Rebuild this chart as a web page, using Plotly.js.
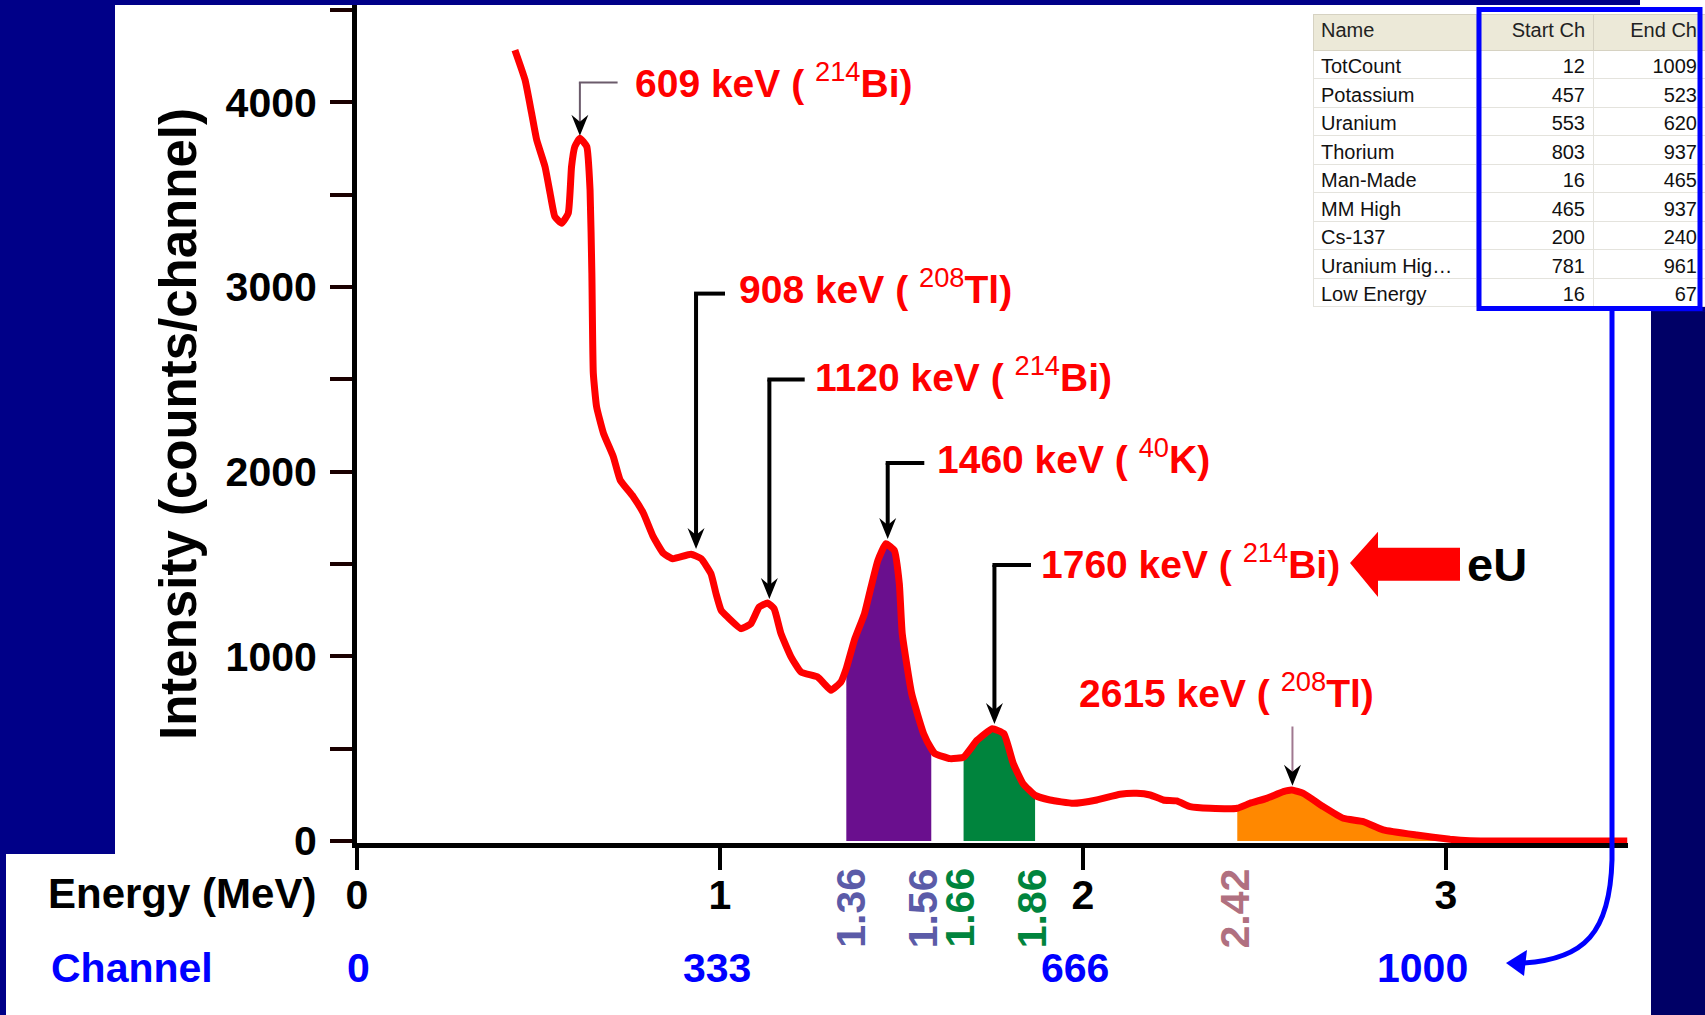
<!DOCTYPE html>
<html><head><meta charset="utf-8">
<script src="https://cdn.plot.ly/plotly-3.0.1.min.js"></script>
<style>html,body{margin:0;padding:0;background:#000088;} #chart{width:1705px;height:1015px;}</style>
</head><body><div id="chart"></div>
<script>
// ---------- data ----------
const energyMeV = [0.435,0.463,0.481,0.495,0.518,0.532,0.545,0.564,0.582,0.591,0.600,0.614,0.633,0.642,0.647,0.651,0.660,0.679,0.706,0.725,0.761,0.789,0.816,0.844,0.870,0.920,0.948,0.975,0.989,1.003,1.021,1.058,1.085,1.108,1.131,1.149,1.168,1.196,1.223,1.269,1.287,1.306,1.333,1.348,1.370,1.398,1.416,1.435,1.457,1.480,1.494,1.502,1.528,1.561,1.582,1.592,1.634,1.671,1.708,1.750,1.782,1.808,1.835,1.868,1.909,1.973,2.038,2.102,2.148,2.185,2.221,2.258,2.295,2.350,2.425,2.460,2.506,2.552,2.575,2.607,2.662,2.717,2.772,2.827,2.919,3.011,3.066,3.500];
const counts = [4284,4122,3942,3797,3652,3508,3382,3346,3400,3652,3761,3806,3761,3526,3075,2533,2352,2208,2082,1955,1865,1775,1648,1558,1529,1553,1529,1448,1340,1250,1213,1150,1177,1267,1289,1258,1123,996,915,888,852,816,861,935,1087,1231,1375,1520,1610,1574,1394,1123,798,581,500,473,446,454,545,608,581,419,310,247,222,204,222,253,258,249,222,217,186,177,177,204,231,267,276,258,186,123,105,60,32,9,1,0];

const windowStart = [1.348, 1.671, 2.425];
const windowEnd   = [1.582, 1.868, 3.066];
const windowColors = ['#6a0f8e', '#00843d', '#ff8800'];
const windowLabels = ['1.36', '1.56', '1.66', '1.86', '2.42'];
const windowLabelColors = ['#5b5ba8', '#5b5ba8', '#00843d', '#00843d', '#b07080'];

const peakLabels = ['609 keV ( ', '908 keV ( ', '1120 keV ( ', '1460 keV ( ', '1760 keV ( ', '2615 keV ( '];
const peakIsotopeMass = ['214', '208', '214', '40', '214', '208'];
const peakIsotopeSym = ['Bi)', 'Tl)', 'Bi)', 'K)', 'Bi)', 'Tl)'];
const peakE = [0.614, 0.934, 1.136, 1.462, 1.756, 2.577];
const peakC = [3815, 1576, 1305, 1630, 628, 294];

const xTickVals = [0, 1, 2, 3];
const xTickText = ['0', '1', '2', '3'];
const yTickVals = [0, 1000, 2000, 3000, 4000];
const yTickText = ['0', '1000', '2000', '3000', '4000'];
const yMinorStep = 500;
const channelLabels = ['0', '333', '666', '1000'];

const tableNames = ['TotCount','Potassium','Uranium','Thorium','Man-Made','MM High','Cs-137','Uranium Hig\u2026','Low Energy'];
const tableStart = [12, 457, 553, 803, 16, 465, 200, 781, 16];
const tableEnd   = [1009, 523, 620, 937, 465, 937, 240, 961, 67];

// ---------- geometry helpers (layout only) ----------
const W = 1705, H = 1015, L = 357, R = 0, T = 0, B = 172;
const PW = W - L - R, PH = H - T - B;
const PX_PER_MEV = 363, X_MAX = 3.5;
const Y_TOP_PIX = 5, Y_MIN = -11;
const Y_MAX = 4528;
const pxPerCount = (H - B - Y_TOP_PIX) / (Y_MAX - Y_MIN);
const px = x => (x - L) / PW;               // page pixel -> paper x
const py = y => (H - B - y) / PH;           // page pixel -> paper y
const xPixOf = e => L + e * PX_PER_MEV;
const yPixOf = c => (H - B) - (c - Y_MIN) * pxPerCount;

const bold = 'Liberation Sans, Arial, sans-serif';

// ---------- traces ----------
const traces = [];
windowStart.forEach((s, i) => {
  const xs = [], ys = [];
  energyMeV.forEach((e, k) => { if (e >= s && e <= windowEnd[i]) { xs.push(e); ys.push(counts[k]); } });
  traces.push({x: xs, y: ys, type: 'scatter', mode: 'lines', fill: 'tozeroy',
    fillcolor: windowColors[i], line: {width: 0, shape: 'spline', smoothing: 0.4, color: windowColors[i]},
    hoverinfo: 'skip', showlegend: false});
});
traces.push({x: energyMeV, y: counts, type: 'scatter', mode: 'lines',
  line: {color: '#ff0000', width: 7, shape: 'spline', smoothing: 0.4}, showlegend: false, cliponaxis: false});
traces.push({type: 'table',
  domain: {x: [px(1313), 1], y: [py(312), py(14)]},
  columnwidth: [163, 117, 112],
  header: {values: ['Name', 'Start Ch', 'End Ch'], align: ['left', 'right', 'right'], height: 36,
    fill: {color: '#ECE9D8'}, line: {color: '#d6d2c2', width: 1},
    font: {family: 'Liberation Sans, Arial', size: 20, color: '#222'}},
  cells: {values: [tableNames, tableStart, tableEnd], align: ['left', 'right', 'right'], height: 28.5,
    fill: {color: '#ffffff'}, line: {color: '#e4e3dd', width: 1},
    font: {family: 'Liberation Sans, Arial', size: 20, color: '#111'}}
});

// ---------- shapes ----------
const rectPix = (x0, y0, x1, y1, color, layer) => ({type: 'rect', xref: 'paper', yref: 'paper',
  x0: px(x0), x1: px(x1), y0: py(y1), y1: py(y0), fillcolor: color, line: {width: 0}, layer: layer || 'below'});
const pathPix = (pts, close) => pts.map((p, i) => (i ? 'L' : 'M') + px(p[0]) + ',' + py(p[1])).join(' ') + (close ? ' Z' : '');

const shapes = [
  rectPix(115, 5, 1651, 1015, '#ffffff'),
  rectPix(6, 854, 1651, 1015, '#ffffff'),
  rectPix(1640, 0, 1705, 20, '#ffffff'),
  rectPix(1651, 312, 1705, 1015, '#000066'),
  {type: 'rect', xref: 'paper', yref: 'paper', x0: px(1479), x1: px(1700), y0: py(308.5), y1: py(9.5),
    line: {color: '#0000ff', width: 5}, layer: 'above'},
  {type: 'path', xref: 'paper', yref: 'paper', layer: 'above', line: {color: '#0000ff', width: 5},
    path: 'M' + px(1612) + ',' + py(311) + ' L' + px(1612) + ',' + py(860) + ' C' + px(1610) + ',' + py(932) + ' ' + px(1585) + ',' + py(960) + ' ' + px(1522) + ',' + py(963)},
  {type: 'path', xref: 'paper', yref: 'paper', layer: 'above', fillcolor: '#0000ff', line: {width: 0},
    path: pathPix([[1506, 963], [1527, 950], [1524, 976]], true)},
  {type: 'path', xref: 'paper', yref: 'paper', layer: 'above', fillcolor: '#ff0000', line: {width: 0},
    path: pathPix([[1350, 563], [1378, 531.7], [1378, 547.7], [1460, 547.7], [1460, 580.7], [1378, 580.7], [1378, 597]], true)}
];

// peak label geometry (page pixels)
const labelLeft = [633, 737, 813, 935, 1038.5, 1076.5];
const labelMidY = [80, 286, 374, 457, 561, 690];
const cornerY = [82.6, 293.6, 379.5, 463, 565, 726.5];
const connectEnd = [617.6, 725, 804.7, 924.3, 1031, null];
const thin = [true, false, false, false, false, true];
const thinColor = ['#6b5b6b', null, null, null, null, '#a07890'];

const annotations = [];
peakE.forEach((e, i) => {
  const cx = xPixOf(e), tipY = yPixOf(peakC[i]) - 1;
  annotations.push({xref: 'paper', yref: 'paper', x: px(labelLeft[i]), y: py(labelMidY[i]), xanchor: 'left', yanchor: 'middle',
    showarrow: false, text: '<b>' + peakLabels[i] + '</b><sup>' + peakIsotopeMass[i] + '</sup><b>' + peakIsotopeSym[i] + '</b>',
    font: {family: bold, size: 39, color: '#ff0000'}});
  const lc = thin[i] ? thinColor[i] : '#000000', lw = thin[i] ? 2 : 4;
  if (connectEnd[i] !== null) {
    shapes.push({type: 'line', xref: 'paper', yref: 'paper', layer: 'above', x0: px(cx - lw / 2), x1: px(connectEnd[i]), y0: py(cornerY[i]), y1: py(cornerY[i]),
      line: {color: lc, width: lw}});
  }
  // vertical shaft
  shapes.push({type: 'line', xref: 'paper', yref: 'paper', layer: 'above', x0: px(cx), x1: px(cx), y0: py(cornerY[i]), y1: py(tipY - 12),
    line: {color: lc, width: lw}});
  // stealth arrowhead
  shapes.push({type: 'path', xref: 'paper', yref: 'paper', layer: 'above', fillcolor: '#000000', line: {width: 0},
    path: pathPix([[cx, tipY], [cx - 8.5, tipY - 21], [cx, tipY - 14], [cx + 8.5, tipY - 21]], true)});
});

windowLabels.forEach((t, i) => annotations.push({xref: 'x', yref: 'paper', x: parseFloat(t), y: py(908), textangle: -90,
  xanchor: 'center', yanchor: 'middle',
  showarrow: false, text: '<b>' + t + '</b>', font: {family: bold, size: 41, color: windowLabelColors[i]}}));

annotations.push({xref: 'paper', yref: 'paper', x: px(318), y: py(893), xanchor: 'right', yanchor: 'middle', showarrow: false,
  text: '<b>Energy (MeV)</b>', font: {family: bold, size: 42, color: '#000000'}});
annotations.push({xref: 'paper', yref: 'paper', x: px(49), y: py(968), xanchor: 'left', yanchor: 'middle', showarrow: false,
  text: '<b>Channel</b>', font: {family: bold, size: 41, color: '#0000ff'}});
const channelPix = [358, 716.6, 1075.4, 1422];
channelLabels.forEach((t, i) => annotations.push({xref: 'paper', yref: 'paper', x: px(channelPix[i]), y: py(968),
  xanchor: 'center', yanchor: 'middle', showarrow: false,
  text: '<b>' + t + '</b>', font: {family: bold, size: 41, color: '#0000ff'}}));
annotations.push({xref: 'paper', yref: 'paper', x: px(1497), y: py(564), xanchor: 'center', yanchor: 'middle', showarrow: false,
  text: '<b>eU</b>', font: {family: bold, size: 47, color: '#000000'}});

const layout = {
  width: W, height: H, margin: {l: L, r: R, t: T, b: B, pad: 0},
  paper_bgcolor: '#000088', plot_bgcolor: 'rgba(0,0,0,0)',
  showlegend: false,
  xaxis: {domain: [0, X_MAX * PX_PER_MEV / PW], range: [0, X_MAX], showgrid: false, zeroline: false,
    showline: true, linecolor: '#000000', linewidth: 5, layer: 'below traces',
    tickmode: 'array', tickvals: xTickVals, ticktext: xTickText, ticks: 'outside', ticklen: 22, tickwidth: 4, tickcolor: '#000000',
    tickfont: {family: bold, size: 41, color: '#000000', weight: 'bold'}, ticklabelstandoff: -10, fixedrange: true},
  yaxis: {domain: [0, (PH - Y_TOP_PIX) / PH], range: [Y_MIN, Y_MAX], showgrid: false, zeroline: false,
    showline: true, linecolor: '#000000', linewidth: 5, layer: 'below traces',
    tickmode: 'array', tickvals: yTickVals, ticktext: yTickText, ticks: 'outside', ticklen: 22, tickwidth: 4, tickcolor: '#1a0000',
    minor: {tick0: 0, dtick: yMinorStep, ticks: 'outside', ticklen: 22, tickwidth: 4, tickcolor: '#1a0000', showgrid: false},
    tickfont: {family: bold, size: 41, color: '#000000', weight: 'bold'}, ticklabelstandoff: 5,
    title: {text: '<b>Intensity (counts/channel)</b>', font: {family: bold, size: 51, color: '#000000'}, standoff: 14}, fixedrange: true},
  shapes: shapes,
  annotations: annotations
};

Plotly.newPlot('chart', traces, layout, {displayModeBar: false, staticPlot: true});
</script>
</body></html>
